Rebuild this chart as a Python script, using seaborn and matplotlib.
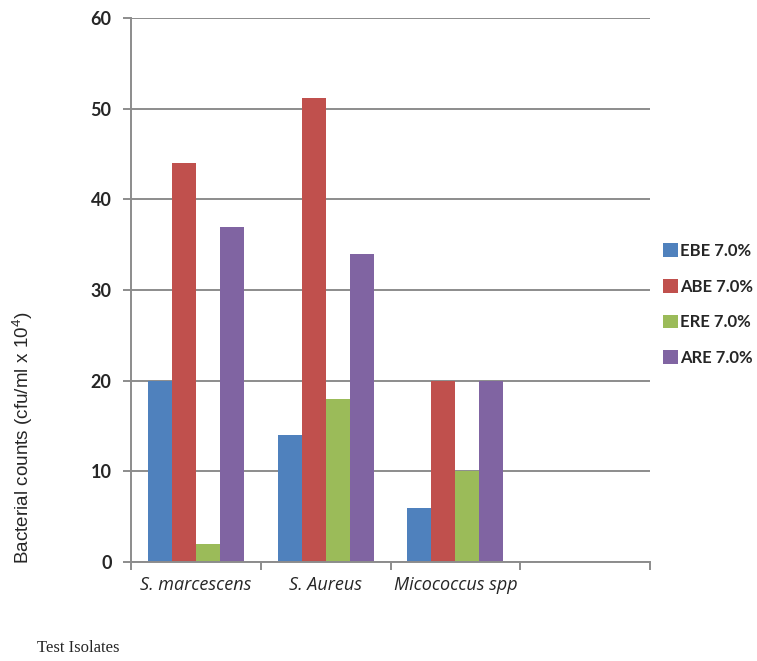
import matplotlib
matplotlib.use("Agg")
import matplotlib.pyplot as plt
from matplotlib.ticker import FixedLocator
import seaborn as sns
import pandas as pd

# Test isolates (a fourth, empty slot is kept on the axis)
isolates = ["S. marcescens", "S. Aureus", "Micococcus spp"]
axis_slots = isolates + [""]
extracts = ["EBE 7.0%", "ABE 7.0%", "ERE 7.0%", "ARE 7.0%"]

ebe = [20, 14, 6]
abe = [44, 51.2, 20]
ere = [2, 18, 10]
are = [37, 34, 20]

colors = ["#4F81BD", "#C0504D", "#9BBB59", "#8064A2"]

rows = []
for name, vals in zip(extracts, [ebe, abe, ere, are]):
    for iso, v in zip(isolates, vals):
        rows.append({"Isolate": iso, "Extract": name, "Count": v})
df = pd.DataFrame(rows)

sns.set_style("white")
plt.rcParams["font.family"] = ["Lato", "DejaVu Sans"]
plt.rcParams["mathtext.fontset"] = "custom"
plt.rcParams["mathtext.rm"] = "Liberation Sans"

fig = plt.figure(figsize=(7.57, 6.61), dpi=100)
ax = fig.add_axes([131 / 757, 1 - 562 / 661, (650 - 131) / 757, (562 - 18) / 661])

sns.barplot(data=df, x="Isolate", y="Count", hue="Extract", order=axis_slots,
            hue_order=extracts, palette=colors, saturation=1, width=0.74,
            linewidth=0, ax=ax, legend=True)

grid_c = "#8c8c8c"
ax.set_ylim(0, 60)
ax.set_xlim(-0.5, len(axis_slots) - 0.5)
ax.set_yticks(range(0, 61, 10))
ax.yaxis.grid(True, color=grid_c, linewidth=1.4)
ax.set_axisbelow(True)
for s in ["top", "right"]:
    ax.spines[s].set_visible(False)
for s in ["left", "bottom"]:
    ax.spines[s].set_color(grid_c)
    ax.spines[s].set_linewidth(1.4)

# y ticks: short outward marks, bold labels
ax.tick_params(axis="y", which="major", direction="out", length=6, width=1.4,
               color=grid_c, pad=8, labelsize=13, left=True)
for t in ax.get_yticklabels():
    t.set_fontweight("bold")

# x: labels at category centres, tick marks at category boundaries
ax.set_xticks(range(len(axis_slots)))
ax.set_xticklabels(axis_slots, fontstyle="italic", fontsize=13, family="Open Sans")
ax.tick_params(axis="x", which="major", length=0, pad=10)
ax.xaxis.set_minor_locator(FixedLocator([i - 0.5 for i in range(len(axis_slots) + 1)]))
ax.tick_params(axis="x", which="minor", direction="out", length=6, width=1.4,
               color=grid_c, bottom=True)

ax.set_xlabel("")
ax.set_ylabel("")

fig.text(23 / 757, 1 - 437.5 / 661, r"Bacterial counts (cfu/ml x 10$^{4}$)",
         rotation=90, ha="center", va="center", fontsize=13.6,
         family="Liberation Sans")
fig.text(37 / 757, 1 - 648 / 661, "Test Isolates", ha="left", va="center",
         fontsize=12, family="Liberation Serif")

handles, labels = ax.get_legend_handles_labels()
ax.legend(handles, labels, loc="upper left",
          bbox_to_anchor=(648 / 757, 1 - 228 / 661), bbox_transform=fig.transFigure,
          frameon=False, handlelength=0.88, handleheight=0.88, handletextpad=0.15,
          labelspacing=1.18, prop={"weight": "bold", "size": 12})

fig.savefig("out.png", dpi=100)
